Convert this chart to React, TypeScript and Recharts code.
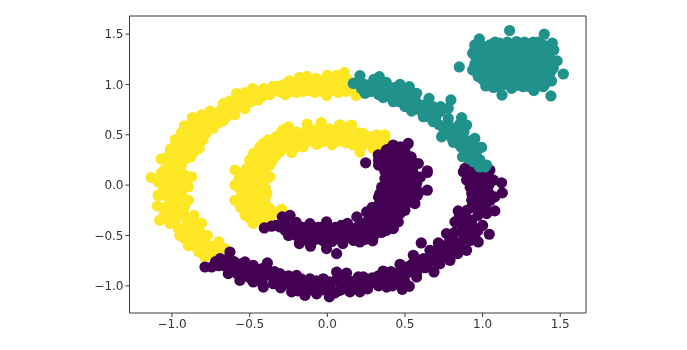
import { ScatterChart, Scatter, XAxis, YAxis, ReferenceLine } from 'recharts';

const xTicks = [-1, -0.5, 0, 0.5, 1, 1.5];
const yTicks = [-1, -0.5, 0, 0.5, 1, 1.5];

type Pt = [number, number];

const yellowOuter: Pt[] = [
  [0.11, 1.12], [0.06, 1.09], [0, 1.09], [-0.07, 1.06], [-0.13, 1.08], [-0.18, 1.07], [-0.245, 1.035], [-0.28, 1],
  [-0.35, 0.98], [-0.41, 0.96], [-0.48, 0.96], [-0.53, 0.92], [-0.585, 0.91], [-0.63, 0.835], [-0.67, 0.81],
  [-0.755, 0.736], [-0.81, 0.7], [-0.87, 0.67], [-0.92, 0.59], [-0.94, 0.52], [-0.98, 0.45], [-1.01, 0.36],
  [-1.07, 0.26], [-1.07, 0.12], [0.185, 0.89], [-0.005, 0.89], [-0.155, 0.93], [-0.2, 0.92], [-0.295, 0.92],
  [-0.37, 0.9], [-0.445, 0.845], [-0.49, 0.83], [-0.53, 0.76], [-0.595, 0.7], [-0.67, 0.64], [-0.735, 0.565],
  [-0.8, 0.45], [-0.825, 0.365], [-0.917, 0.26], [-0.95, 0.165], [0.15, 1], [0.1, 1], [0.05, 0.98], [0, 0.99],
  [-0.05, 0.97], [-0.1, 0.98], [-0.15, 1], [-0.2, 1], [-0.25, 0.96], [-0.3, 0.95], [-0.35, 0.93], [-0.4, 0.9],
  [-0.45, 0.9], [-0.5, 0.88], [-0.55, 0.84], [-0.6, 0.8], [-0.65, 0.73], [-0.7, 0.72], [-0.75, 0.65], [-0.8, 0.6],
  [-0.85, 0.55], [-0.87, 0.48], [-0.9, 0.42], [-0.92, 0.35], [-0.97, 0.3], [-0.98, 0.2], [-1, 0.1],
  [-1.135, 0.076], [-1.09, -0.1], [-1.095, -0.206], [-1.08, -0.35], [-1.013, -0.382], [-0.95, -0.5], [-0.895, -0.6],
  [-0.79, -0.713], [-0.874, 0.083], [-0.895, -0.017], [-0.895, -0.15], [-0.859, -0.3], [-0.81, -0.38], [-0.773, -0.5],
  [-0.7, -0.564], [-0.66, -0.63], [-1.067, 0.083], [-0.97, 0.083], [-1.056, -0.017], [-0.96, -0.017], [-1.013, -0.15],
  [-0.95, -0.18], [-0.97, -0.28], [-0.906, -0.35], [-0.885, -0.48], [-0.83, -0.53], [-0.8, -0.61], [-0.72, -0.65],
  [-0.84, -0.43], [-1.05, 0.15],
  [0.17, 0.95], [0.12, 0.93], [0.07, 0.92], [0.03, 0.94], [-0.03, 0.93], [-0.08, 0.92], [-0.12, 0.94], [-0.17, 0.95],
  [-0.23, 0.93], [-0.27, 0.9], [0.13, 1.05], [0.08, 1.04], [0.03, 1.04], [-0.03, 1.03], [-0.08, 1.02], [-0.12, 1.03],
  [-0.17, 1.03], [-0.22, 1], [-0.27, 0.98], [-0.33, 0.95], [-0.38, 0.94], [-0.43, 0.92], [-0.47, 0.91], [-0.52, 0.87],
  [-0.56, 0.79], [-0.58, 0.86], [-0.62, 0.75], [-0.64, 0.78], [-0.68, 0.76], [-0.7, 0.67], [-0.73, 0.69], [-0.77, 0.6],
  [-0.78, 0.68], [-0.83, 0.62], [-0.83, 0.5], [-0.87, 0.6], [-0.9, 0.53], [-0.85, 0.42], [-0.88, 0.36], [-0.95, 0.4],
  [-0.94, 0.26], [-1, 0.25], [-0.94, 0.2], [-1.02, 0.2], [-0.98, 0.13], [-0.92, 0.1], [-1.02, 0.03], [-0.92, 0.02],
  [-1.09, 0.03], [-1.01, -0.08], [-0.94, -0.08], [-1.06, -0.1], [-0.92, -0.22], [-1.04, -0.22], [-1, -0.22], [-1.03, -0.3],
  [-0.93, -0.28], [-0.98, -0.35], [-0.9, -0.42], [-0.96, -0.43], [-0.85, -0.38], [-0.92, -0.53], [-0.85, -0.5], [-0.86, -0.6],
  [-0.8, -0.53], [-0.83, -0.66], [-0.77, -0.6], [-0.76, -0.68], [-0.72, -0.6],
  [-0.97, -0.1], [-0.98, 0], [-1.02, -0.05], [-0.93, 0.05], [-1, 0.15], [-0.95, 0.12], [-0.98, -0.15], [-0.93, -0.15],
  [-1.05, -0.28], [-0.98, -0.22], [-0.92, -0.3], [-0.88, -0.42], [-0.93, -0.48], [-0.86, -0.45], [-0.82, -0.47], [-0.88, -0.56],
  [-0.82, -0.58], [-0.78, -0.65], [-0.74, -0.62], [-0.02, 0.96], [0.03, 0.99], [0.07, 1.01], [-0.07, 0.99], [-0.13, 0.95],
  [-0.18, 0.97], [-0.22, 0.95], [-0.26, 0.93], [-0.32, 0.98], [-0.38, 0.9], [-0.42, 0.88], [-0.47, 0.85], [-0.52, 0.82],
  [-0.6, 0.75], [-0.65, 0.68], [-0.7, 0.62], [-0.78, 0.52], [-0.85, 0.48], [-0.92, 0.46], [-0.88, 0.28], [-0.97, 0.35],
  [-0.82, 0.43], [-1.03, 0.28], [-0.97, 0.23], [-0.86, 0.33], [-0.92, 0.3], [-0.95, 0.47],
];

const yellowInner: Pt[] = [
  [0.146, 0.59], [0.08, 0.6], [-0.04, 0.62], [-0.13, 0.607], [-0.2, 0.53], [-0.25, 0.58], [-0.285, 0.55], [-0.38, 0.45],
  [-0.435, 0.38], [-0.475, 0.315], [-0.595, 0.15], [-0.52, 0.165], [0.167, 0.398], [0.03, 0.4], [-0.07, 0.405],
  [-0.155, 0.38], [-0.23, 0.325], [-0.305, 0.33], [-0.37, 0.2], [0.157, 0.597], [0.23, 0.514], [0.318, 0.5], [0.37, 0.5],
  [0.37, 0.448], [0.296, 0.365], [0.21, 0.33], [-0.595, 0], [-0.595, -0.15], [-0.53, -0.3], [-0.477, -0.38], [-0.37, 0.083],
  [-0.39, -0.083], [-0.41, -0.18], [-0.348, -0.265], [-0.294, -0.24], [-0.5, 0.2], [-0.45, 0.25], [-0.4, 0.3], [-0.35, 0.35],
  [-0.3, 0.42], [-0.25, 0.45], [-0.2, 0.45], [-0.15, 0.5], [-0.1, 0.5], [-0.05, 0.5], [0, 0.5], [0.05, 0.5], [0.1, 0.5],
  [0.15, 0.48], [0.2, 0.45], [0.25, 0.42], [0.3, 0.43], [-0.5, 0.1], [-0.45, 0.1], [-0.42, 0.18], [-0.52, 0.03], [-0.47, 0],
  [-0.42, 0], [-0.53, -0.08], [-0.47, -0.08], [-0.53, -0.18], [-0.47, -0.18], [-0.48, -0.28], [-0.42, -0.28], [-0.4, -0.33],
  [-0.45, -0.35], [-0.35, 0.25], [-0.3, 0.37],
  [0.12, 0.55], [0.06, 0.55], [0.01, 0.56], [-0.04, 0.56], [-0.09, 0.55], [-0.13, 0.55], [-0.18, 0.5], [-0.22, 0.5], [-0.27, 0.5],
  [-0.33, 0.48], [-0.3, 0.47], [0.2, 0.52], [0.27, 0.48], [0.34, 0.46], [0.12, 0.42], [0.08, 0.44], [0.02, 0.44], [-0.03, 0.43],
  [-0.11, 0.44], [-0.17, 0.44], [-0.25, 0.38], [-0.2, 0.38], [-0.33, 0.4], [-0.38, 0.38], [-0.33, 0.3], [-0.42, 0.32], [-0.38, 0.28],
  [-0.47, 0.22], [-0.42, 0.25], [-0.4, 0.12], [-0.55, 0.12], [-0.55, 0.05], [-0.56, -0.05], [-0.43, -0.13], [-0.55, -0.12],
  [-0.56, -0.22], [-0.5, -0.24], [-0.44, -0.22], [-0.38, -0.22], [-0.5, -0.33], [-0.36, -0.3], [-0.57, 0.06], [-0.4, 0.05],
  [-0.4, -0.03], [-0.5, -0.02], [-0.45, 0.05], [-0.44, -0.04], [0.22, 0.38], [0.28, 0.42], [0.33, 0.39], [0.17, 0.45],
  [-0.44, 0.15], [-0.48, 0.15], [-0.52, 0.1], [-0.46, -0.13], [-0.5, -0.13], [-0.4, -0.13], [-0.5, 0.05], [-0.4, 0.2], [-0.36, 0.32],
  [-0.27, 0.42], [-0.22, 0.42], [-0.13, 0.44], [-0.05, 0.45], [0.05, 0.45], [0.25, 0.48], [-0.3, 0.52], [-0.41, 0.42], [-0.5, 0.25],
];

const purpleInner: Pt[] = [
  [-0.406, -0.425], [-0.359, -0.408], [-0.29, -0.315], [-0.24, -0.3], [-0.112, -0.382], [-0.005, -0.365], [0.06, -0.68],
  [0.19, -0.315], [-0.25, -0.5], [-0.18, -0.58], [-0.108, -0.607], [-0.005, -0.63], [0.1, -0.58], [0.21, -0.564],
  [-0.305, -0.415], [-0.22, -0.43], [-0.133, -0.48], [-0.047, -0.48], [0.038, -0.5], [0.124, -0.448], [0.189, -0.53],
  [0.292, -0.554], [0.425, -0.431], [0.457, -0.365], [0.564, -0.183], [0.644, -0.05], [0.644, 0.126], [0.253, -0.266],
  [0.339, -0.083], [0.371, 0.066], [0.275, -0.382], [0.36, -0.282], [0.425, -0.183], [0.51, -0.183], [0.404, -0.05],
  [0.489, -0.05], [0.575, 0.016], [0.446, 0.083], [0.554, 0.116], [0.275, -0.48], [0.36, -0.382], [0.247, 0.222],
  [0.328, 0.3], [0.425, 0.398], [0.521, 0.414], [0.5, 0.332], [0.586, 0.215], [0.644, 0.143], [0.382, 0.3], [0.468, 0.3],
  [0.339, 0.199], [0.446, 0.199], [0.532, 0.166],
  [-0.06, -0.42], [0.05, -0.42], [0.1, -0.5], [0.19, -0.42], [0.23, -0.38], [0.32, -0.3], [0.3, -0.42], [0.39, -0.32],
  [0.36, -0.16], [0.47, -0.28], [0.35, -0.02], [0.45, 0], [0.53, -0.08], [0.39, 0.1], [0.5, 0.09], [0.59, -0.07], [0.43, 0.28], [0.5, 0.24],
  [-0.33, -0.4], [-0.27, -0.37], [-0.27, -0.45], [-0.2, -0.37], [-0.2, -0.5], [-0.16, -0.42], [-0.15, -0.54], [-0.09, -0.44],
  [-0.08, -0.54], [-0.04, -0.42], [-0.03, -0.55], [0.01, -0.44], [0.03, -0.56], [0.07, -0.46], [0.07, -0.53], [0.09, -0.4],
  [0.14, -0.52], [0.13, -0.38], [0.17, -0.47], [0.24, -0.48], [0.24, -0.54], [0.22, -0.44], [0.27, -0.32], [0.29, -0.45], [0.33, -0.42],
  [0.35, -0.47], [0.4, -0.38], [0.43, -0.3], [0.47, -0.2], [0.39, -0.22], [0.33, -0.2], [0.29, -0.22], [0.43, -0.12], [0.38, -0.1],
  [0.48, -0.12], [0.53, -0.15], [0.58, -0.1], [0.55, -0.02], [0.5, 0.02], [0.42, 0.03], [0.38, 0.02], [0.37, 0.14], [0.43, 0.14],
  [0.49, 0.15], [0.55, 0.05], [0.6, 0.08], [0.55, 0.17], [0.38, 0.2], [0.38, 0.25], [0.33, 0.25], [0.43, 0.35], [0.47, 0.38],
  [0.5, 0.38], [0.47, 0.25], [0.54, 0.28], [0.55, 0.23], [0.4, 0.36],
  [-0.12, -0.5], [-0.02, -0.5], [0.05, -0.5], [0.12, -0.45], [0.17, -0.55], [0.24, -0.42], [0.3, -0.5], [0.3, -0.36], [0.35, -0.35],
  [0.42, -0.36], [0.38, -0.45], [0.33, -0.12], [0.36, -0.24], [0.44, -0.25], [0.5, -0.1], [0.5, -0.25], [0.44, -0.03], [0.4, 0.08],
  [0.44, 0.08], [0.43, 0.2], [0.33, 0.2], [0.5, 0.2], [0.43, 0.25], [0.38, 0.35], [0.47, 0.32],
];

const purpleOuter: Pt[] = [
  [-0.788, -0.813], [-0.745, -0.813], [-0.69, -0.73], [-0.627, -0.664], [-0.53, -0.763], [-0.477, -0.796], [-0.386, -0.773],
  [-0.305, -0.879], [-0.198, -0.896], [-0.112, -0.93], [-0.026, -0.93], [0.06, -0.863], [0.124, -0.873], [0.2, -0.912],
  [-0.638, -0.879], [-0.563, -0.946], [-0.477, -0.962], [-0.412, -1.012], [-0.348, -0.979], [-0.23, -1.06], [-0.144, -1.095],
  [-0.069, -1.08], [0.013, -1.11], [0.081, -1.045], [0.146, -1.06], [0.21, -1.06], [-0.67, -0.796], [-0.584, -0.83],
  [-0.498, -0.863], [-0.412, -0.912], [-0.326, -0.945], [-0.24, -0.979], [-0.155, -0.995], [-0.069, -0.995], [0.017, -1.012],
  [0.103, -0.979], [0.188, -0.995], [0.382, -1.012], [0.483, -1.035], [0.528, -1.005], [0.575, -0.912], [0.687, -0.863],
  [0.725, -0.78], [0.79, -0.747], [0.897, -0.647], [0.972, -0.564], [1.043, -0.488], [1.026, -0.282], [1.079, -0.256],
  [1.079, -0.116], [1.127, -0.077], [1.122, 0.023], [0.605, -0.574], [0.232, -0.912], [0.36, -0.853], [0.468, -0.786],
  [0.554, -0.697], [0.661, -0.647], [0.715, -0.574], [0.768, -0.481], [0.822, -0.365], [0.843, -0.256], [0.93, -0.083],
  [0.918, 0.033], [0.897, 0.05], [0.876, 0.132], [0.296, -0.962], [0.425, -0.912], [0.51, -0.879], [0.597, -0.796],
  [0.683, -0.73], [0.79, -0.614], [0.876, -0.481], [0.94, -0.415], [0.897, -0.348], [0.983, -0.216], [1.004, -0.05],
  [0.972, 0.05], [1.036, 0.1], [0.93, 0.116], [1.047, 0.149], [0.886, 0.166], [0.94, 0.18],
  [-0.72, -0.76], [-0.65, -0.74], [-0.6, -0.76], [-0.55, -0.78], [-0.62, -0.84], [-0.53, -0.88], [-0.45, -0.87], [-0.44, -0.95],
  [-0.38, -0.85], [-0.36, -0.9], [-0.28, -0.95], [-0.3, -1.02], [-0.25, -0.9], [-0.2, -0.97], [-0.19, -1.05], [-0.11, -0.98],
  [-0.11, -1.04], [-0.03, -1.04], [-0.03, -0.97], [0.05, -1.07], [0.05, -0.95], [0.14, -0.95], [0.15, -1.02], [0.24, -0.97],
  [0.26, -1.03], [0.33, -0.9], [0.33, -1], [0.29, -0.92], [0.38, -0.94], [0.44, -0.98], [0.47, -0.92], [0.47, -0.85], [0.55, -0.83],
  [0.55, -0.78], [0.62, -0.73], [0.63, -0.82], [0.65, -0.78], [0.7, -0.68], [0.74, -0.68], [0.76, -0.6], [0.82, -0.56], [0.84, -0.68],
  [0.85, -0.6], [0.92, -0.55], [0.95, -0.5], [0.82, -0.47], [0.87, -0.4], [0.93, -0.35], [1, -0.4], [0.93, -0.22], [0.88, -0.3],
  [0.97, -0.3], [1, -0.13], [0.93, -0.15], [0.96, -0.05], [1.05, -0.15], [1.04, 0], [0.92, -0.02], [0.98, 0.12], [0.93, 0.05],
  [-0.7, -0.8], [-0.64, -0.8], [-0.58, -0.8], [-0.58, -0.88], [-0.5, -0.82], [-0.5, -0.92], [-0.42, -0.83], [-0.42, -0.96],
  [-0.34, -0.86], [-0.3, -0.9], [-0.27, -0.98], [-0.22, -0.92], [-0.17, -0.93], [-0.16, -1.03], [-0.07, -0.95], [-0.07, -1.03],
  [0.01, -0.96], [0.02, -1.06], [0.09, -0.92], [0.1, -1.03], [0.18, -0.95], [0.2, -1.03], [0.27, -0.96], [0.3, -0.96], [0.36, -0.97],
  [0.36, -0.9], [0.41, -0.86], [0.42, -1], [0.5, -0.96], [0.52, -0.81], [0.58, -0.74], [0.58, -0.85], [0.66, -0.72], [0.7, -0.76],
  [0.76, -0.7], [0.72, -0.62], [0.8, -0.65], [0.79, -0.54], [0.88, -0.54], [0.88, -0.46], [0.92, -0.45], [0.97, -0.45], [0.85, -0.31],
  [0.9, -0.25], [0.97, -0.17], [1.02, -0.2], [0.95, -0.1], [1.04, -0.08], [0.98, -0.02], [0.95, 0.1], [1, 0.05], [1.07, 0.05],
];

const tealArc: Pt[] = [
  [0.21, 1.088], [0.335, 1.078], [0.468, 1], [0.528, 0.978], [0.575, 0.912], [0.655, 0.862], [0.796, 0.846], [0.865, 0.67],
  [0.897, 0.597], [0.95, 0.464], [0.994, 0.375], [1.026, 0.2], [0.167, 1.01], [0.243, 0.912], [0.36, 0.869], [0.425, 0.829],
  [0.543, 0.736], [0.618, 0.68], [0.682, 0.63], [0.736, 0.48], [0.811, 0.425], [0.871, 0.282], [0.94, 0.232], [1.015, 0.18],
  [0.275, 0.995], [0.382, 0.962], [0.425, 0.93], [0.489, 0.895], [0.532, 0.829], [0.597, 0.796], [0.661, 0.73], [0.725, 0.73],
  [0.779, 0.663], [0.747, 0.58], [0.833, 0.564], [0.876, 0.464], [0.833, 0.5], [0.908, 0.38], [0.886, 0.332], [0.961, 0.298],
  [0.983, 0.25], [0.779, 0.763], [0.2, 1.03], [0.328, 0.995], [0.468, 0.86], [0.51, 0.93], [0.554, 0.862],
  [0.24, 1], [0.22, 0.96], [0.28, 0.93], [0.3, 1.05], [0.38, 1.02], [0.33, 0.9], [0.4, 0.88], [0.43, 0.97], [0.47, 0.93], [0.46, 0.83],
  [0.5, 0.78], [0.53, 0.9], [0.57, 0.83], [0.55, 0.78], [0.6, 0.74], [0.63, 0.8], [0.68, 0.78], [0.65, 0.68], [0.7, 0.68], [0.73, 0.78],
  [0.72, 0.6], [0.78, 0.6], [0.75, 0.52], [0.8, 0.55], [0.8, 0.47], [0.85, 0.6], [0.88, 0.53], [0.86, 0.38], [0.92, 0.44], [0.84, 0.42],
  [0.93, 0.33], [0.97, 0.37], [0.9, 0.27], [0.98, 0.18], [0.95, 0.27],
];

const tealBlob: Pt[] = [
  [1.174, 1.536], [1.397, 1.499], [0.979, 1.453], [0.85, 1.174], [1.52, 1.104], [1.44, 0.886], [1.125, 0.895], [1.444, 1.035],
  [0.95, 1.393], [1.449, 1.41], [1.48, 1.234], [1.459, 1.343], [0.936, 1.31], [0.936, 1.144], [0.972, 1.078], [1.02, 0.985],
  [1.187, 0.962], [1.262, 0.978], [1.33, 0.939], [1.39, 0.978], [1.434, 1.111], [1.455, 1.161], [1.047, 1.393], [1.11, 1.41],
  [1.219, 1.426], [1.326, 1.42], [1.39, 1.393], [1, 1.05], [1.05, 1.04], [1.1, 1.02], [1.15, 1.03], [1.2, 1.05], [1.25, 1.04],
  [1.3, 1.03], [1.35, 1.02], [1.4, 1.05], [1, 1.15], [1.05, 1.16], [1.1, 1.14], [1.15, 1.15], [1.2, 1.16], [1.25, 1.14], [1.3, 1.15],
  [1.35, 1.16], [1.4, 1.14], [1, 1.25], [1.05, 1.26], [1.1, 1.24], [1.15, 1.25], [1.2, 1.26], [1.25, 1.24], [1.3, 1.25], [1.35, 1.26],
  [1.42, 1.25], [1, 1.34], [1.05, 1.33], [1.1, 1.35], [1.15, 1.34], [1.2, 1.33], [1.25, 1.35], [1.3, 1.34], [1.35, 1.33], [1.4, 1.32],
  [1, 1.38], [1.07, 1.39], [1.13, 1.38], [1.18, 1.39], [1.26, 1.38], [1.31, 1.39], [1.37, 1.38], [1.43, 1.37],
  [0.97, 1.3], [1.03, 1.29], [1.08, 1.31], [1.13, 1.3], [1.18, 1.29], [1.23, 1.3], [1.28, 1.31], [1.33, 1.29], [1.38, 1.3], [1.43, 1.3],
  [0.95, 1.2], [1, 1.21], [1.06, 1.19], [1.12, 1.2], [1.17, 1.21], [1.23, 1.19], [1.27, 1.2], [1.33, 1.21], [1.38, 1.19], [1.44, 1.2],
  [0.97, 1.1], [1.03, 1.09], [1.08, 1.11], [1.13, 1.1], [1.18, 1.09], [1.23, 1.1], [1.28, 1.11], [1.33, 1.09], [1.38, 1.1], [1.42, 1.08],
  [1.05, 1], [1.1, 0.98], [1.14, 1], [1.22, 0.99], [1.3, 0.98], [1.36, 1],
  [1.08, 1.42], [1.16, 1.42], [1.27, 1.42], [1.36, 1.42], [1.07, 0.97], [1.04, 1.02], [1.17, 1], [1.27, 1.02], [1.33, 0.98], [1.4, 1],
  [0.96, 1.25], [0.95, 1.35], [0.98, 1.15], [0.98, 1.35],
];

const toRows = (pts: Pt[]) => pts.map(([x, y]) => ({ x, y }));
const fmt = (v: number) => v.toFixed(1).replace('-', '\u2212');

const axisColor = '#3a3a3a';
const tickStyle = { fill: '#333', fontSize: 12, fontFamily: 'DejaVu Sans' };
const xDomain = [-1.274, 1.666];
const yDomain = [-1.27, 1.68];

const dot = (fill: string) => (props: any) => <circle cx={props.cx} cy={props.cy} r={5.6} fill={fill} />;

export default function App() {
  return (
    <div style={{ position: 'absolute', left: 0, top: 0, width: 687, height: 350, background: '#fff', filter: 'blur(0.35px)' }}>
      <ScatterChart width={687} height={350} margin={{ top: 16, right: 101, bottom: 7, left: 89.5 }}>
        <XAxis
          dataKey="x"
          type="number"
          domain={xDomain}
          ticks={xTicks}
          tickFormatter={fmt}
          height={30}
          tick={tickStyle}
          stroke={axisColor}
          tickSize={4}
        />
        <YAxis
          dataKey="y"
          type="number"
          domain={yDomain}
          ticks={yTicks}
          tickFormatter={fmt}
          width={40}
          tick={tickStyle}
          stroke={axisColor}
          tickSize={4}
        />
        <ReferenceLine y={yDomain[1]} stroke={axisColor} />
        <ReferenceLine x={xDomain[1]} stroke={axisColor} />
        <Scatter data={toRows(yellowOuter)} shape={dot('#fde725')} isAnimationActive={false} />
        <Scatter data={toRows(yellowInner)} shape={dot('#fde725')} isAnimationActive={false} />
        <Scatter data={toRows(purpleInner)} shape={dot('#440154')} isAnimationActive={false} />
        <Scatter data={toRows(purpleOuter)} shape={dot('#440154')} isAnimationActive={false} />
        <Scatter data={toRows(tealArc)} shape={dot('#21918c')} isAnimationActive={false} />
        <Scatter data={toRows(tealBlob)} shape={dot('#21918c')} isAnimationActive={false} />
      </ScatterChart>
    </div>
  );
}
